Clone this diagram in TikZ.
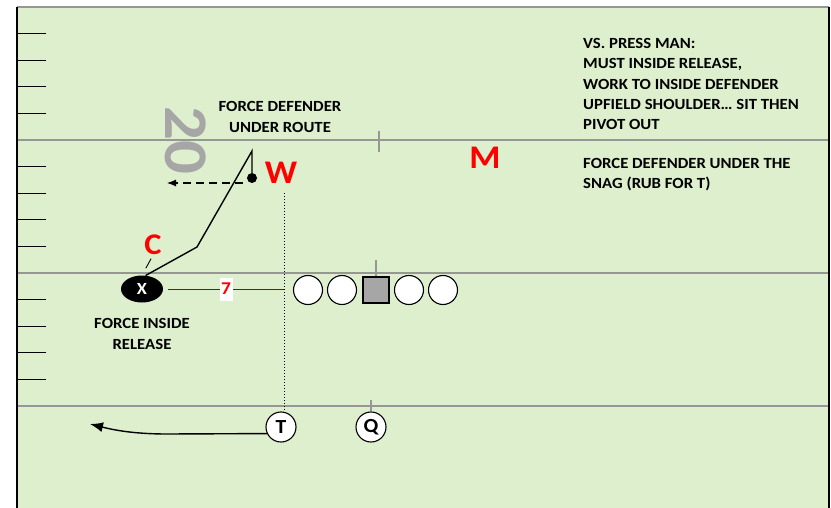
\documentclass[tikz,border=0pt]{standalone}
\usepackage{fontspec}
\setmainfont{Carlito}[FakeStretch=1.08]
\usetikzlibrary{arrows.meta,shapes.geometric,positioning}

\definecolor{turf}{RGB}{222,239,206}
\definecolor{chalk}{RGB}{150,150,150}
\definecolor{numbergray}{RGB}{166,166,166}

\def\fieldleft{17}
\def\fieldright{829}
\def\hashstep{26.6}

\tikzset{
  yardline/.style={draw=chalk,line width=1.4pt},
  hashmark/.style={draw=black,line width=1.1pt},
  oplayer/.style={circle,draw=black,line width=1.1pt,fill=white,minimum size=30pt,
    inner sep=0pt,font=\bfseries\fontsize{20}{20}\selectfont},
  lineman/.style={circle,draw=black,line width=1.1pt,fill=white,minimum size=29pt,inner sep=0pt},
  snapper/.style={rectangle,draw=black,line width=1.1pt,fill=numbergray,minimum size=26pt,inner sep=0pt},
  defender/.style={text=red,inner sep=0pt,font=\bfseries\fontsize{33}{33}\selectfont},
  note/.style={align=left,inner sep=0pt,font=\bfseries\fontsize{15.5}{20.4}\selectfont},
  cnote/.style={note,align=center},
  route/.style={line width=1.4pt},
}

\begin{document}
\begin{tikzpicture}[x=1pt,y=-1pt]
  \useasboundingbox (0,0) rectangle (831,508);
  % field and hash marks
  \fill[turf] (\fieldleft,7) rectangle (\fieldright,508);
  \foreach \k in {1,...,14} {
    \pgfmathtruncatemacro\r{mod(\k,5)}
    \ifnum\r=0\else                         % skip the yard lines
      \draw[hashmark] (\fieldleft,7+\k*\hashstep) -- ++(29,0);
    \fi
  }
  \foreach \y in {7,140,273,406}
    \draw[yardline] (\fieldleft,\y) -- (\fieldright,\y);
  \draw[black,line width=1.2pt] (\fieldleft,7) -- (\fieldleft,508);
  \draw[black,line width=1.5pt] (\fieldright,7) -- (\fieldright,508);
  \node[text=numbergray,rotate=-90,inner sep=0pt,
    font=\bfseries\fontsize{62}{62}\selectfont] (twenty) at (186,140) {20};

  % offense
  \node[ellipse,fill=black,minimum width=42pt,minimum height=27pt,inner sep=0pt,
    text=white,font=\bfseries\fontsize{17}{17}\selectfont] (X) at (142,289) {X};
  \foreach \name/\x in {lt/308,lg/342,rg/409,rt/443}
    \node[lineman] (\name) at (\x,290) {};
  \node[snapper] (ctr) at (376,290) {};
  \node[oplayer] (T) at (281,427) {T};
  \node[oplayer] (Q) at (371,427) {Q};

  % defense
  \node[defender] (W) at (281,173) {W};
  \node[defender] (M) at (485,158) {M};
  \node[defender,font=\bfseries\fontsize{30}{30}\selectfont] (C) at (153,245) {C};

  % ball spot ticks
  \coordinate (spot20) at (379,131);
  \draw[chalk,line width=1.2pt] (ctr.north) -- ++(0,-16);
  \draw[chalk,line width=1.2pt] (spot20) -- ++(0,21);
  \draw[chalk,line width=1.2pt] (Q.north) -- ++(0,-11);

  % X route: release, stem, sit, pivot out
  \coordinate (break) at (197,247);
  \coordinate (top) at (252,151);
  \node[circle,fill=black,inner sep=0pt,minimum size=10pt] (sit) at (252,178) {};
  \draw[route] (X.75) -- (break) -- (top) -- (sit);
  \coordinate (pivot) at (243,183);
  \coordinate (pivotend) at (167,183);
  \draw[line width=1.1pt,dash pattern=on 8pt off 5pt,-{Latex[length=9pt,width=7pt]}]
    (pivot) -- (pivotend);
  \draw[line width=0.9pt,shorten <=4pt,shorten >=8pt] (C.south) -- (X.north);

  % split and W drop
  \coordinate (wdrop) at (284,193);
  \draw[dotted,line width=1pt] (wdrop) -- (wdrop |- T.north);
  \draw[black!80,line width=1pt] ([xshift=5pt]X.east) -- (X.east -| wdrop)
    node[midway,fill=white,text=red,inner xsep=1.5pt,minimum height=23pt,
      font=\bfseries\fontsize{18}{18}\selectfont] (split) {7};

  % T motion
  \coordinate (bend) at (167,434);
  \coordinate (motionend) at (90,424);
  \draw[route,-{Latex[length=13pt,width=10pt]}] (T.205) -- (bend)
    .. controls (130,434) and (110,429) .. (motionend);

  % coaching points
  \node[cnote] (routenote) at (280,117) {FORCE DEFENDER\\UNDER ROUTE};
  \node[cnote] (releasenote) at (142,334) {FORCE INSIDE\\RELEASE};
  \node[note,anchor=north west] (pressnote) at (583,38)
    {VS. PRESS MAN:\\MUST INSIDE RELEASE,\\WORK TO INSIDE DEFENDER\\UPFIELD SHOULDER… SIT THEN\\PIVOT OUT};
  \node[note,anchor=north west] (snagnote) at (583,158)
    {FORCE DEFENDER UNDER THE\\SNAG (RUB FOR T)};
\end{tikzpicture}
\end{document}
